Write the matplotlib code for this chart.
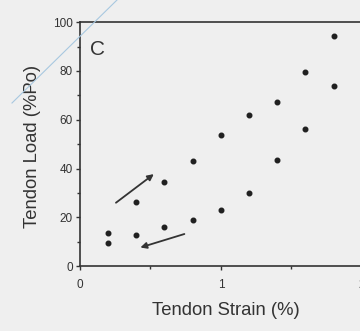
import matplotlib.pyplot as plt
from matplotlib.lines import Line2D

# Tendon strain (%) and load (%Po)
strain = [0.2, 0.4, 0.6, 0.8, 1.0, 1.2, 1.4, 1.6, 1.8]
load_up = [13.4, 26.2, 34.3, 43.0, 53.8, 61.9, 67.2, 79.5, 94.3]
load_down = [9.6, 12.6, 16.1, 18.9, 23.0, 30.0, 43.4, 56.3, 73.8]

y_ticks = [0, 20, 40, 60, 80, 100]
x_ticks = [0, 1, 2]

ink = "#333333"
paper = "#efefef"

plt.rcParams["font.family"] = ["Liberation Sans", "DejaVu Sans"]

fig = plt.figure(figsize=(3.6, 3.31), dpi=100, facecolor=paper)
ax = fig.add_axes([0.222, 0.196, 0.783, 0.737])
ax.set_facecolor(paper)

ax.plot(strain, load_up, "o", color="#202020", markersize=3.3)
ax.plot(strain, load_down, "o", color="#202020", markersize=3.3)

# loading / unloading arrows
ax.annotate("", xy=(0.54, 38.4), xytext=(0.24, 25.3),
            arrowprops=dict(arrowstyle="-|>", color=ink, lw=1.3,
                            mutation_scale=9))
ax.annotate("", xy=(0.41, 7.3), xytext=(0.76, 13.5),
            arrowprops=dict(arrowstyle="-|>", color=ink, lw=1.3,
                            mutation_scale=9))

ax.text(0.075, 88.7, "C", fontsize=15, color=ink, va="center", ha="left")

ax.set_xlim(0, 2)
ax.set_ylim(0, 100)
ax.set_xticks(x_ticks)
ax.set_yticks(y_ticks)
ax.set_xticks([0.5, 1.5], minor=True)
ax.set_yticks([10, 30, 50, 70, 90], minor=True)
ax.tick_params(direction="out", length=3, width=1, colors=ink,
               labelsize=8.5, pad=2)
ax.tick_params(which="minor", direction="out", length=2, width=1, colors=ink)
ax.tick_params(axis="x", pad=6)

for s in ax.spines.values():
    s.set_color(ink)
    s.set_linewidth(1.2)

ax.set_xlabel("Tendon Strain (%)", fontsize=13.3, color=ink, va="center")
ax.set_ylabel("Tendon Load (%Po)", fontsize=13.3, color=ink, va="center")
ax.xaxis.set_label_coords(0.518, -0.18)
ax.yaxis.set_label_coords(-0.167, 0.49)

# faint blue pen stroke across the scan
fig.add_artist(Line2D([12 / 360, 117 / 360], [1 - 103 / 331, 1.0],
                      color="#a8c8e0", lw=0.8, transform=fig.transFigure))

fig.savefig("out.png", dpi=100, facecolor=paper)
